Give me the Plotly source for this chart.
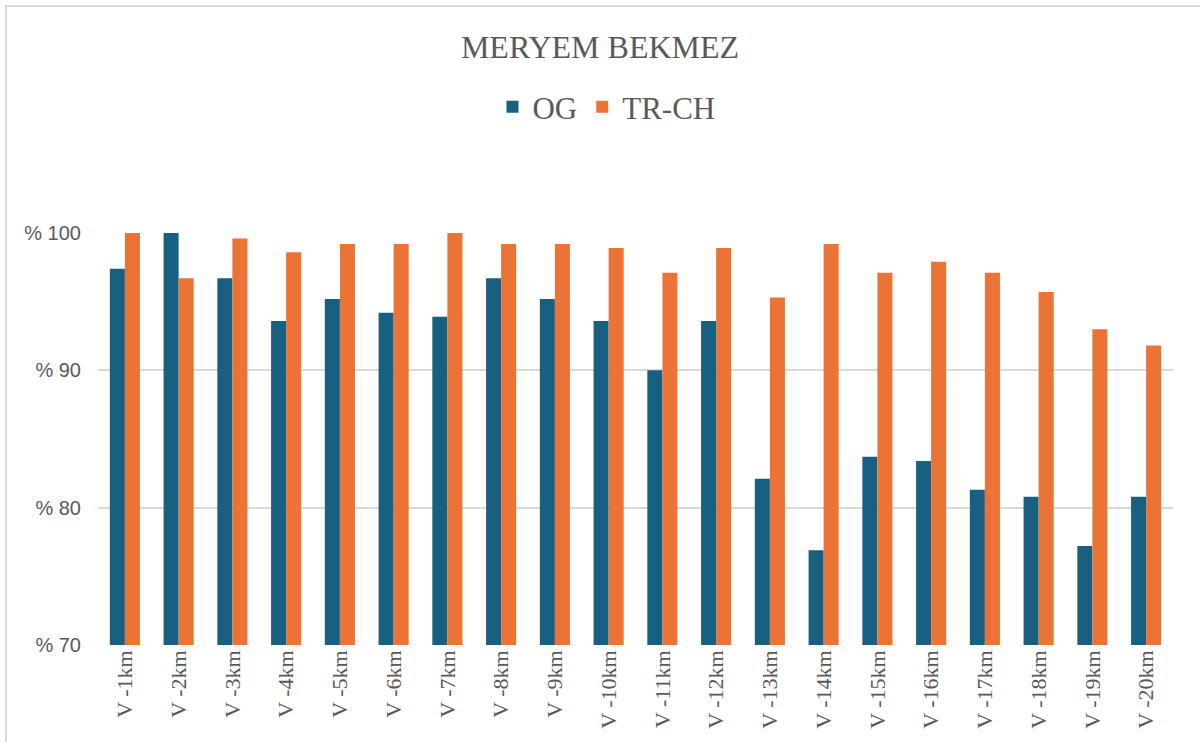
import plotly.graph_objects as go

# Distance markers along the route
categories = [f"V -{i}km" for i in range(1, 21)]

# Percentage values per marker
og_values = [97.4, 100.0, 96.7, 93.6, 95.2, 94.2, 93.9, 96.7, 95.2, 93.6,
             90.0, 93.6, 82.1, 76.9, 83.7, 83.4, 81.3, 80.8, 77.2, 80.8]
trch_values = [100.0, 96.7, 99.6, 98.6, 99.2, 99.2, 100.0, 99.2, 99.2, 98.9,
               97.1, 98.9, 95.3, 99.2, 97.1, 97.9, 97.1, 95.7, 93.0, 91.8]

y_ticks = [70, 80, 90, 100]
y_tick_labels = [f"% {v}" for v in y_ticks]

BLUE = "#176082"
ORANGE = "#ea7335"
TEXT = "#595959"
GRID = "#d9d9d9"
SERIF = "Liberation Serif, Times New Roman, serif"
SANS = "Liberation Sans, Arial, sans-serif"

fig = go.Figure()
fig.add_trace(go.Bar(name="OG", x=categories, y=og_values,
                     marker=dict(color=BLUE, line=dict(width=0))))
fig.add_trace(go.Bar(name="TR-CH", x=categories, y=trch_values,
                     marker=dict(color=ORANGE, line=dict(width=0))))

fig.update_layout(
    width=1200, height=742,
    margin=dict(l=98, r=27, t=233, b=97),
    paper_bgcolor="white", plot_bgcolor="white",
    barmode="group", bargap=0.44, bargroupgap=0,
    title=dict(text="MERYEM BEKMEZ", x=0.5, xanchor="center",
               y=1 - 47 / 742, yanchor="middle",
               font=dict(family=SERIF, size=32, color=TEXT)),
    legend=dict(orientation="h", x=0.473, xanchor="center",
                y=1 + (233 - 107) / 412, yanchor="middle",
                font=dict(family=SERIF, size=31, color=TEXT),
                itemwidth=30, traceorder="normal"),
    xaxis=dict(tickangle=-90, tickfont=dict(family=SERIF, size=22, color=TEXT),
               showgrid=False, showline=False, ticks=""),
    yaxis=dict(range=[70, 100], tickvals=y_ticks, ticktext=y_tick_labels,
               tickfont=dict(family=SANS, size=20, color=TEXT),
               showgrid=True, gridcolor=GRID, gridwidth=2,
               zeroline=False, showline=False, ticks="", ticklabelstandoff=16),
    shapes=[dict(type="rect", xref="paper", yref="paper",
                 x0=(6 - 98) / 1075, x1=(1260 - 98) / 1075,
                 y0=1 - (800 - 233) / 412, y1=1 + (233 - 6) / 412,
                 line=dict(color=GRID, width=2), layer="below")],
)

fig.write_html("out.html")
